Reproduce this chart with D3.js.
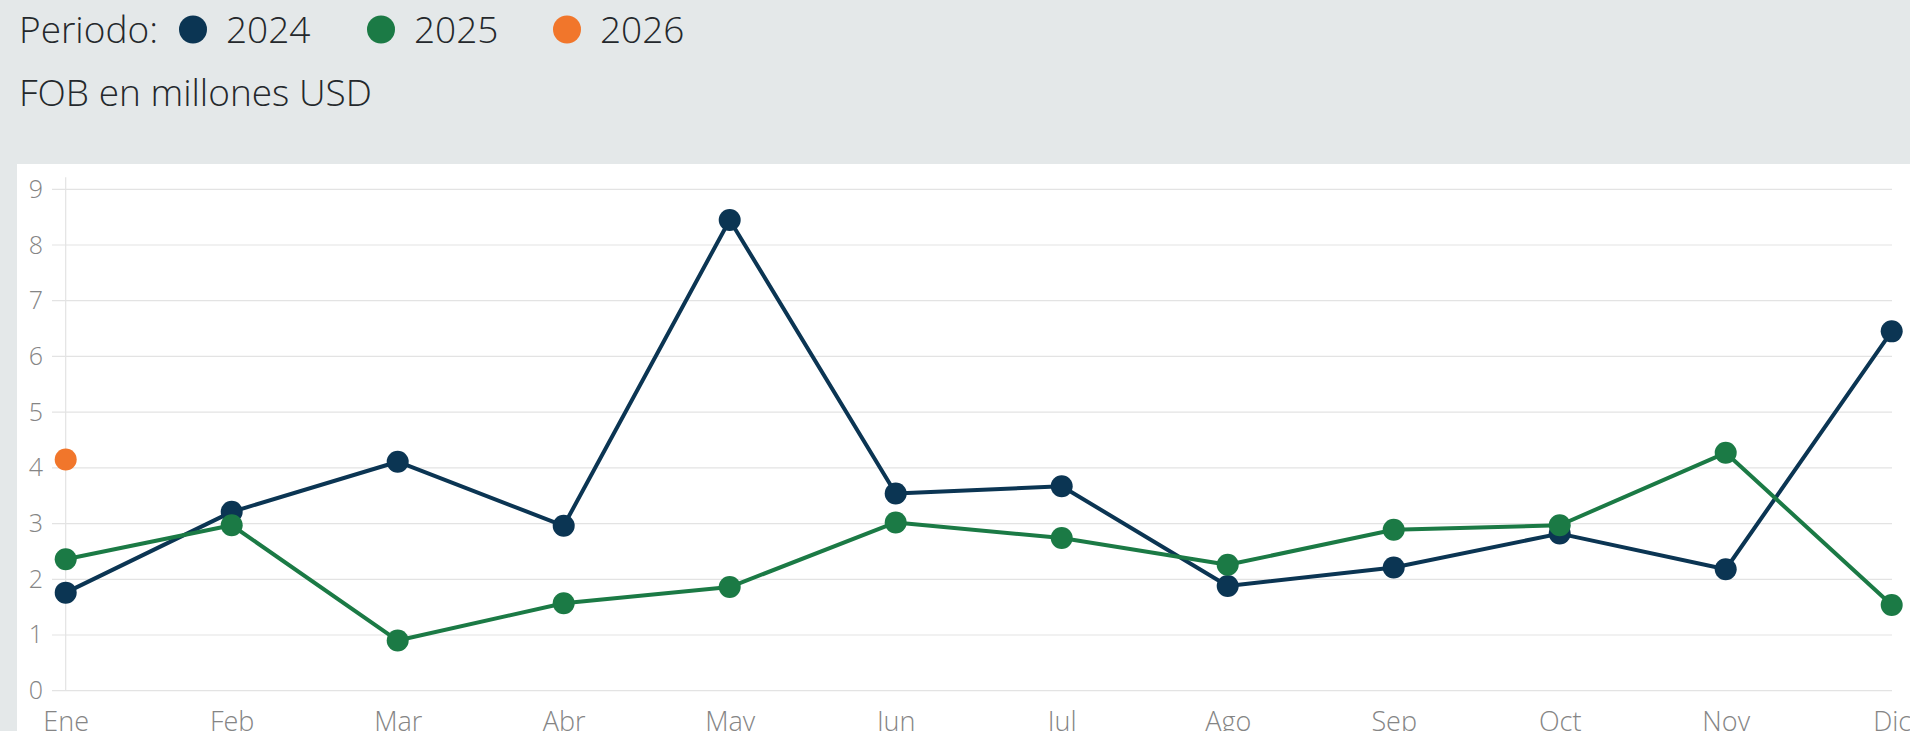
<!DOCTYPE html>
<html>
<head>
<meta charset="utf-8">
<script src="https://cdn.jsdelivr.net/npm/d3@7"></script>
<style>
  html, body { margin: 0; padding: 0; background: #e4e8e9; overflow: hidden; }
  svg { display: block; font-family: "Open Sans", sans-serif; }
</style>
</head>
<body>
<div id="chart"></div>
<script>
// Data
const months = ["Ene", "Feb", "Mar", "Abr", "May", "Jun", "Jul", "Ago", "Sep", "Oct", "Nov", "Dic"];
const values2024 = [1.76, 3.21, 4.11, 2.96, 8.45, 3.54, 3.67, 1.88, 2.21, 2.82, 2.18, 6.45];
const values2025 = [2.36, 2.97, 0.90, 1.57, 1.86, 3.02, 2.74, 2.26, 2.89, 2.97, 4.27, 1.54];
const values2026 = [4.15];
const yTicks = [0, 1, 2, 3, 4, 5, 6, 7, 8, 9];

const series = [
    { name: "2024", color: "#0b3553", values: values2024 },
    { name: "2025", color: "#1b7a45", values: values2025 },
    { name: "2026", color: "#f1762b", values: values2026 }
];

const width = 1910, height = 731;

const svg = d3.select("#chart").append("svg")
    .attr("width", width)
    .attr("height", height);

// Header
svg.append("rect")
    .attr("width", width).attr("height", height)
    .attr("fill", "#e4e8e9");

const legend = svg.append("g").attr("class", "legend");
legend.append("text")
    .attr("x", 19).attr("y", 43)
    .attr("font-size", 37).attr("font-weight", 300)
    .attr("fill", "#24282c")
    .text("Periodo:");

const legendX = [193, 381, 567];
series.forEach((s, i) => {
    legend.append("circle")
        .attr("cx", legendX[i]).attr("cy", 29.5).attr("r", 14)
        .attr("fill", s.color);
    legend.append("text")
        .attr("x", legendX[i] + 33).attr("y", 43)
        .attr("font-size", 37).attr("font-weight", 300)
        .attr("fill", "#24282c")
        .text(s.name);
});

svg.append("text")
    .attr("x", 19).attr("y", 106)
    .attr("font-size", 37).attr("font-weight", 300)
    .attr("fill", "#24282c")
    .text("FOB en millones USD");

// Plot panel
svg.append("rect")
    .attr("x", 17).attr("y", 164)
    .attr("width", width - 17).attr("height", height - 164)
    .attr("fill", "#ffffff");

const x = d3.scalePoint()
    .domain(months)
    .range([65.7, 1891.7]);

const y = d3.scaleLinear()
    .domain([0, 9])
    .range([690.7, 189.3]);

// Gridlines
svg.append("g")
    .attr("class", "grid")
    .selectAll("line")
    .data(yTicks)
    .enter().append("line")
        .attr("x1", 52).attr("x2", 1892)
        .attr("y1", d => y(d)).attr("y2", d => y(d))
        .attr("stroke", "#e3e3e3")
        .attr("stroke-width", 1.2);

// Y axis line at first month
svg.append("line")
    .attr("x1", x("Ene")).attr("x2", x("Ene"))
    .attr("y1", y(9) - 12).attr("y2", y(0))
    .attr("stroke", "#e3e3e3")
    .attr("stroke-width", 1.2);

// Y axis labels
const yAxis = svg.append("g")
    .attr("transform", "translate(43,0)")
    .call(d3.axisLeft(y).tickValues(yTicks).tickSize(0).tickPadding(0));
yAxis.select(".domain").remove();
yAxis.selectAll("text")
    .attr("font-family", "'Open Sans', sans-serif")
    .attr("font-size", 25).attr("font-weight", 300)
    .attr("fill", "#858585");

// X axis labels
const xAxis = svg.append("g")
    .attr("transform", "translate(0," + 712 + ")")
    .call(d3.axisBottom(x).tickSize(0).tickPadding(0));
xAxis.select(".domain").remove();
xAxis.selectAll("text")
    .attr("font-family", "'Open Sans', sans-serif")
    .attr("font-size", 27).attr("font-weight", 300)
    .attr("fill", "#858585");

// Lines and points
const line = d3.line()
    .x((d, i) => x(months[i]))
    .y(d => y(d));

series.forEach(s => {
    const g = svg.append("g").attr("class", "series-" + s.name);
    if (s.values.length > 1) {
        g.append("path")
            .datum(s.values)
            .attr("d", line)
            .attr("fill", "none")
            .attr("stroke", s.color)
            .attr("stroke-width", 4)
            .attr("stroke-linejoin", "round");
    }
    g.selectAll("circle")
        .data(s.values)
        .enter().append("circle")
            .attr("cx", (d, i) => x(months[i]))
            .attr("cy", d => y(d))
            .attr("r", 11)
            .attr("fill", s.color);
});
</script>
</body>
</html>
